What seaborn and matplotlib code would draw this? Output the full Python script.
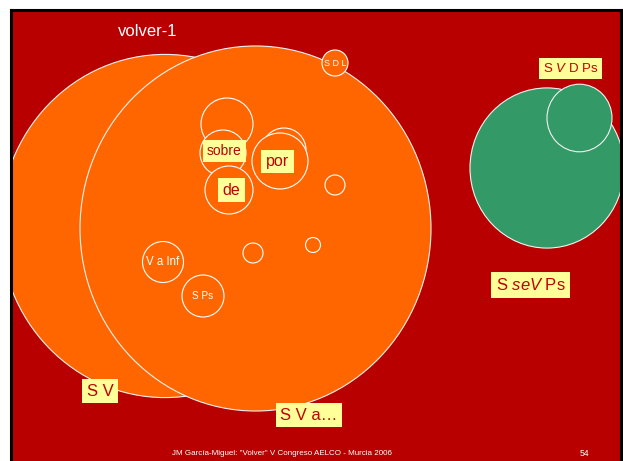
import numpy as np
import pandas as pd
import matplotlib
matplotlib.use('Agg')
import matplotlib.pyplot as plt
from matplotlib.patches import Ellipse
import seaborn as sns

# Círculos grandes (centro x, centro y, raio) em pixels do slide
big_x = [165, 255.5, 547, 579.5]
big_y = [226, 228.5, 168, 118]
big_r = [165, 175.5, 77, 32.5]
big_cor = ['#FF6600', '#FF6600', '#339966', '#339966']

# Círculos pequenos (só contorno)
small_x = [227, 284, 223, 229, 280, 335, 253, 313, 163, 203, 335]
small_y = [124, 150, 153, 190, 161, 185, 253, 245, 262, 296, 63]
small_r = [26, 22, 23, 24, 28, 10, 10, 7.5, 20.5, 21, 13]

# Rótulos com fundo amarelo
rot_txt = ['S $\\it{V}$ D Ps', 'S $\\it{seV}$ Ps', 'sobre', 'por', 'de', 'S V', 'S V a\u2026']
rot_x = [570.5, 530.5, 224.5, 277.5, 231.5, 100, 309]
rot_y = [68.5, 285, 151, 161.5, 190, 391, 415]
rot_tam = [9.5, 12, 10, 11.5, 11.5, 12, 12]

# Rótulos brancos
br_txt = ['volver-1', 'V a Inf', 'S Ps', 'S D L']
br_x = [148, 163, 203, 335]
br_y = [31, 262, 296, 63]
br_tam = [12, 8.3, 7.2, 6.5]

rodape = 'JM García-Miguel: "Volver" V Congreso AELCO - Murcia 2006'
pagina = '54'

sns.set_style('white')
plt.rcParams['font.family'] = ['Liberation Sans', 'DejaVu Sans']
plt.rcParams['mathtext.fontset'] = 'custom'
plt.rcParams['mathtext.rm'] = 'Liberation Sans'
plt.rcParams['mathtext.it'] = 'Liberation Sans:italic'

fig = plt.figure(figsize=(6.23, 4.61), dpi=100)
fig.patch.set_facecolor('white')
ax = fig.add_axes([11.3 / 623, -20 / 461, 609.2 / 623, (461 - 10.3 + 20) / 461])
ax.set_facecolor('#B80000')
for s in ['top', 'left', 'right']:
    ax.spines[s].set_color('black')
    ax.spines[s].set_linewidth(2.2)
ax.spines['bottom'].set_visible(False)

# estiramento vertical do slide
esticar = 1.04

for i in range(len(big_x)):
    e = Ellipse((big_x[i], big_y[i]), 2 * big_r[i], 2 * big_r[i] * esticar,
                facecolor=big_cor[i], edgecolor='#F2F2F2', linewidth=0.8, zorder=2)
    ax.add_patch(e)

df = pd.DataFrame({'x': small_x, 'y': small_y, 'r': small_r})
tamanhos = (2 * df['r'] * 0.72) ** 2
sns.scatterplot(x='x', y='y', data=df, s=tamanhos, marker='o', color='#FF6600',
                edgecolor='white', linewidth=0.8, ax=ax, zorder=3, legend=False)

for i in range(len(rot_txt)):
    ax.text(rot_x[i], rot_y[i], rot_txt[i], fontsize=rot_tam[i], color='#C00000',
            ha='center', va='center', zorder=5,
            bbox=dict(boxstyle='square,pad=0.28', facecolor='#FFFF99', edgecolor='none'))

for i in range(len(br_txt)):
    ax.text(br_x[i], br_y[i], br_txt[i], fontsize=br_tam[i], color='white',
            ha='center', va='center', zorder=5)

ax.text(282, 453, rodape, fontsize=5.8, color='white', ha='center', va='center', zorder=5)
ax.text(584, 453, pagina, fontsize=6.2, color='white', ha='center', va='center', zorder=5)

ax.set_xlim(11.3, 620.5)
ax.set_ylim(481, 10.3)
ax.set_xticks([])
ax.set_yticks([])
ax.set_xlabel('')
ax.set_ylabel('')

plt.savefig('out.png', dpi=100)
